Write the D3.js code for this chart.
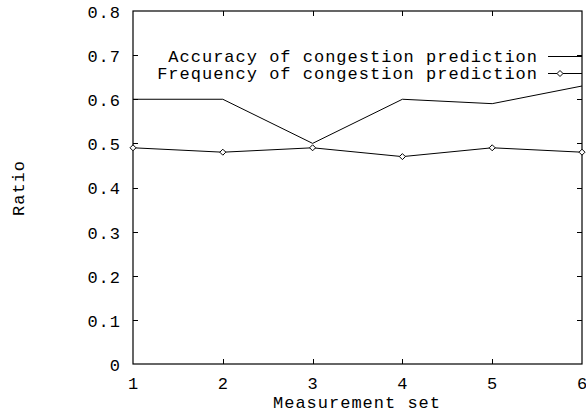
<!DOCTYPE html>
<html><head><meta charset="utf-8">
<script src="https://cdn.jsdelivr.net/npm/d3@7"></script>
<style>body{margin:0;background:#fff}svg{display:block}text{font-family:"Liberation Mono","DejaVu Sans Mono",monospace;font-size:17px;letter-spacing:1px;fill:#000}</style>
</head><body><svg id="c" width="586" height="417"></svg>
<script>
const sets = [1, 2, 3, 4, 5, 6];
const accuracy = [0.60, 0.60, 0.50, 0.60, 0.59, 0.63];
const frequency = [0.49, 0.48, 0.49, 0.47, 0.49, 0.48];
const yTicks = [0, 0.1, 0.2, 0.3, 0.4, 0.5, 0.6, 0.7, 0.8];
const xTicks = [1, 2, 3, 4, 5, 6];
const seriesNames = ["Accuracy of congestion prediction", "Frequency of congestion prediction"];

const svg = d3.select("#c");
const L = 133, R = 582, T = 11, B = 364;
const x = d3.scaleLinear().domain([1, 6]).range([L, R]);
const y = d3.scaleLinear().domain([0, 0.8]).range([B, T]);
const tl = 5;

// frame
svg.append("rect").attr("x", L).attr("y", T).attr("width", R - L).attr("height", B - T)
  .attr("fill", "none").attr("stroke", "#000").attr("stroke-width", 1.2);

// ticks (inward, mirrored)
const g = svg.append("g").attr("stroke", "#000").attr("stroke-width", 1);
yTicks.forEach(v => {
  const yy = Math.round(y(v)) + 0.5;
  if (v > 0 && v < 0.8) {
    g.append("line").attr("x1", L).attr("x2", L + tl).attr("y1", yy).attr("y2", yy);
    g.append("line").attr("x1", R).attr("x2", R - tl).attr("y1", yy).attr("y2", yy);
  }
  svg.append("text").attr("x", 121).attr("y", y(v) + 1).attr("dy", "0.35em")
    .attr("text-anchor", "end").text(v === 0 ? "0" : d3.format(".1f")(v));
});
xTicks.forEach(v => {
  const xx = Math.round(x(v)) + 0.5;
  if (v > 1 && v < 6) {
    g.append("line").attr("x1", xx).attr("x2", xx).attr("y1", B).attr("y2", B - tl);
    g.append("line").attr("x1", xx).attr("x2", xx).attr("y1", T).attr("y2", T + tl);
  }
  svg.append("text").attr("x", x(v) + 0.5).attr("y", 383).attr("dy", "0.35em")
    .attr("text-anchor", "middle").text(v);
});

// axis labels
svg.append("text").attr("x", 357).attr("y", 402).attr("dy", "0.35em")
  .attr("text-anchor", "middle").text("Measurement set");
svg.append("text").attr("transform", "translate(18,188) rotate(-90)").attr("dy", "0.35em")
  .attr("text-anchor", "middle").text("Ratio");

// lines
const line = d3.line().x((d, i) => x(sets[i])).y(d => y(d));
svg.append("path").datum(accuracy).attr("d", line).attr("fill", "none").attr("stroke", "#000").attr("stroke-width", 1);
svg.append("path").datum(frequency).attr("d", line).attr("fill", "none").attr("stroke", "#000").attr("stroke-width", 1);

const diamond = (cx, cy) => `M${cx},${cy - 3}L${cx + 3},${cy}L${cx},${cy + 3}L${cx - 3},${cy}Z`;
svg.selectAll(".pt").data(frequency).enter().append("path")
  .attr("d", (d, i) => diamond(x(sets[i]), y(d)))
  .attr("fill", "#fff").attr("stroke", "#000").attr("stroke-width", 1);

// legend
const ly = [56, 73];
seriesNames.forEach((n, i) => {
  svg.append("text").attr("x", 538).attr("y", ly[i]).attr("dy", "0.35em")
    .attr("text-anchor", "end").text(n);
  svg.append("line").attr("x1", 548).attr("x2", 582).attr("y1", ly[i] + 0.5).attr("y2", ly[i] + 0.5)
    .attr("stroke", "#000").attr("stroke-width", 1);
});
svg.append("path").attr("d", diamond(560, ly[1] + 0.5)).attr("fill", "#fff").attr("stroke", "#000");
</script></body></html>
